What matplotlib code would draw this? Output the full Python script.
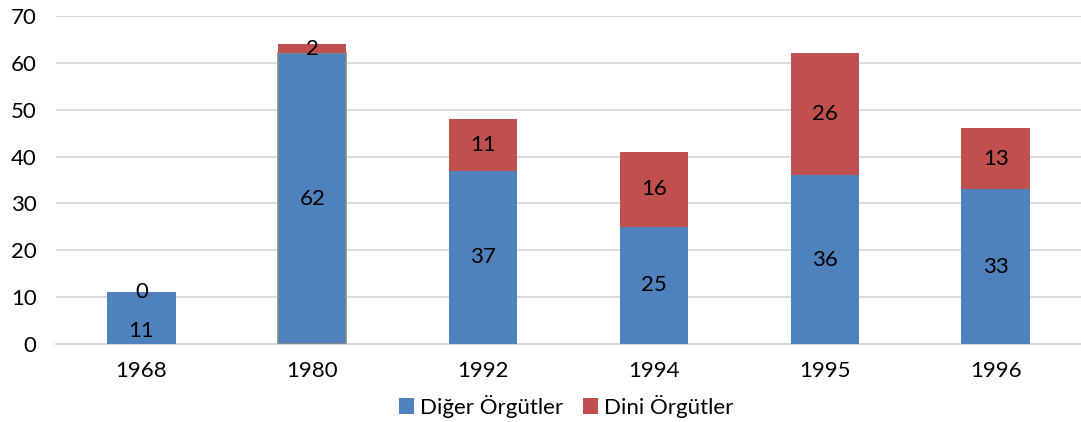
import matplotlib
matplotlib.use("Agg")
import matplotlib.pyplot as plt
import numpy as np

years = ["1968", "1980", "1992", "1994", "1995", "1996"]
diger = [11, 62, 37, 25, 36, 33]
dini = [0, 2, 11, 16, 26, 13]

plt.rcParams['font.family'] = ['Lato', 'DejaVu Sans']
FS = 16

fig = plt.figure(figsize=(10.81, 4.22), dpi=100)
ax = fig.add_axes([56/1081, 1-344/422, 1025/1081, (344-16)/422])

x = np.arange(len(years))
blue = "#4F81BD"
red = "#C0504D"
b1 = ax.bar(x, diger, width=0.4, color=blue, label="Diğer Örgütler", zorder=3)
b2 = ax.bar(x, dini, width=0.4, bottom=diger, color=red, label="Dini Örgütler", zorder=3)
# gray edge on the 1980 bar like the reference
b1[1].set_edgecolor("#8c8c8c"); b1[1].set_linewidth(1.2)

for i in range(len(years)):
    yb = diger[i] / 2
    if dini[i] == 0:
        yb = diger[i] * 0.25
    ax.text(x[i], yb, str(diger[i]), ha="center", va="center", fontsize=FS, color="black", zorder=4)
    ax.text(x[i], diger[i] + dini[i] / 2, str(dini[i]), ha="center", va="center", fontsize=FS, color="black", zorder=4)

ax.set_xlim(-0.5, len(years) - 0.5)
ax.set_ylim(0, 70)
ax.set_yticks(range(0, 71, 10))
ax.set_xticks(x)
ax.set_xticklabels(years)
ax.tick_params(axis="both", length=0, labelsize=FS)
ax.tick_params(axis="x", pad=12)
ax.tick_params(axis="y", pad=14)
ax.grid(axis="y", color="#D9D9D9", linewidth=1.3, zorder=0)
for s in ["top", "right", "left"]:
    ax.spines[s].set_visible(False)
ax.spines["bottom"].set_color("#D9D9D9")
ax.spines["bottom"].set_linewidth(1.3)

leg = fig.legend(handles=[b1, b2], loc="center", bbox_to_anchor=(566/1081, 1-406/422), ncol=2,
                 frameon=False, fontsize=FS, handlelength=0.7, handleheight=0.7,
                 handletextpad=0.25, columnspacing=0.9)

fig.savefig("out.png", dpi=100)
